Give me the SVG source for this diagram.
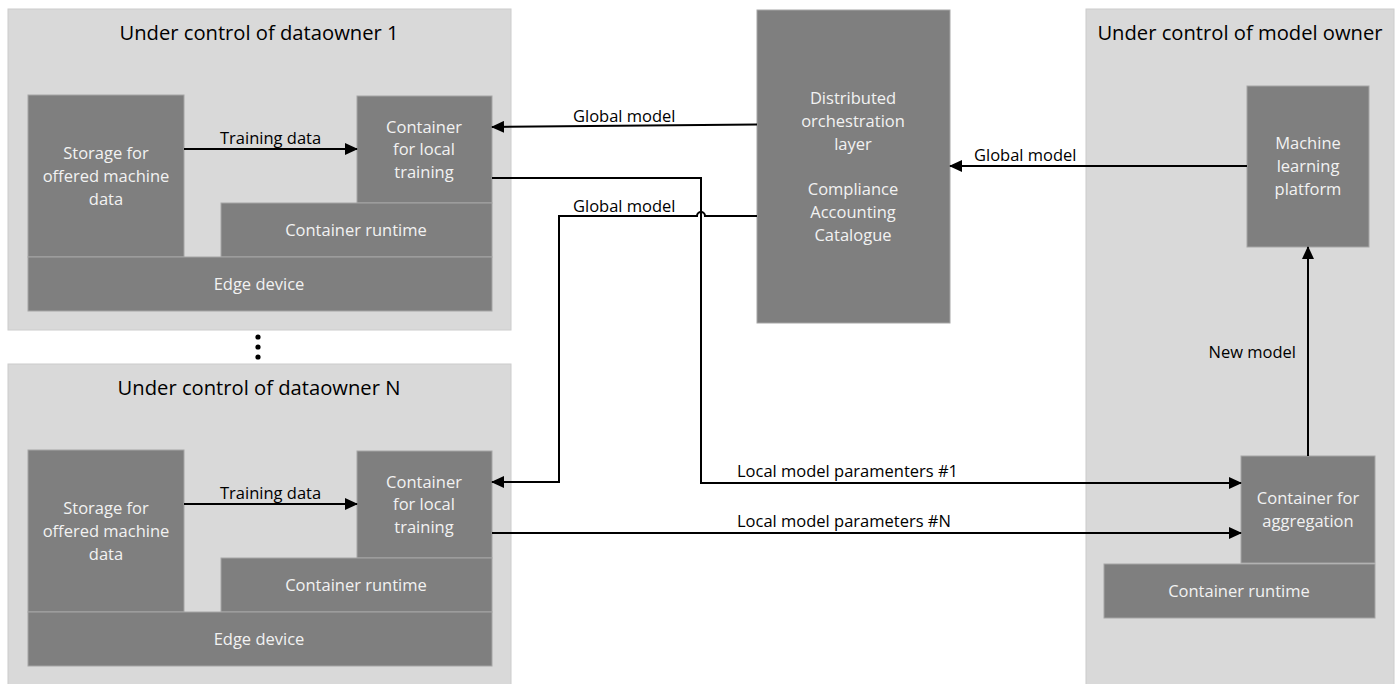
<svg xmlns="http://www.w3.org/2000/svg" width="1397" height="684" viewBox="0 0 1397 684">
<style>
.zone{fill:#d9d9d9;stroke:#cccccc;stroke-width:1}
.box{fill:#7f7f7f;stroke:#a6a6a6;stroke-width:1}
.title{font-family:"Open Sans","Liberation Sans",sans-serif;font-size:20.2px;fill:#000;text-anchor:middle}
.bt{font-family:"Open Sans","Liberation Sans",sans-serif;font-size:16.5px;fill:#f2f2f2;text-anchor:middle}
.lbl{font-family:"Open Sans","Liberation Sans",sans-serif;font-size:16.5px;fill:#000}
.ln{fill:none;stroke:#000;stroke-width:2}
</style>
<defs>
<marker id="ah" markerUnits="userSpaceOnUse" markerWidth="13" markerHeight="12" refX="12" refY="6" orient="auto">
<path d="M0,0 L13,6 L0,12 z" fill="#000"/>
</marker>
</defs>

<g id="owner1">
<rect class="zone" x="8" y="9" width="503" height="321"/>
<text class="title" x="259" y="40">Under control of dataowner 1</text>
</g>
<g id="storage1">
<rect class="box" x="28" y="95" width="156" height="162"/>
<text class="bt" x="106" y="159">Storage for</text>
<text class="bt" x="106" y="182">offered machine</text>
<text class="bt" x="106" y="205">data</text>
</g>
<g id="local1">
<rect class="box" x="357" y="96" width="135" height="107"/>
<text class="bt" x="424" y="133">Container</text>
<text class="bt" x="424" y="155">for local</text>
<text class="bt" x="424" y="178">training</text>
</g>
<g id="runtime1">
<rect class="box" x="221" y="203" width="271" height="54"/>
<text class="bt" x="356" y="236">Container runtime</text>
</g>
<g id="edge1">
<rect class="box" x="28" y="257" width="464" height="54"/>
<text class="bt" x="259" y="290">Edge device</text>
</g>

<g id="dots">
<circle cx="258" cy="337" r="2.6" fill="#000"/>
<circle cx="258" cy="347" r="2.6" fill="#000"/>
<circle cx="258" cy="357" r="2.6" fill="#000"/>
</g>

<g id="ownerN">
<rect class="zone" x="8" y="364" width="503" height="330"/>
<text class="title" x="259" y="395">Under control of dataowner N</text>
</g>
<g id="storageN">
<rect class="box" x="28" y="450" width="156" height="162"/>
<text class="bt" x="106" y="514">Storage for</text>
<text class="bt" x="106" y="537">offered machine</text>
<text class="bt" x="106" y="560">data</text>
</g>
<g id="localN">
<rect class="box" x="357" y="451" width="135" height="107"/>
<text class="bt" x="424" y="488">Container</text>
<text class="bt" x="424" y="510">for local</text>
<text class="bt" x="424" y="533">training</text>
</g>
<g id="runtimeN">
<rect class="box" x="221" y="558" width="271" height="54"/>
<text class="bt" x="356" y="591">Container runtime</text>
</g>
<g id="edgeN">
<rect class="box" x="28" y="612" width="464" height="54"/>
<text class="bt" x="259" y="645">Edge device</text>
</g>

<g id="orchestration">
<rect class="box" x="757" y="10" width="193" height="313"/>
<text class="bt" x="853" y="104">Distributed</text>
<text class="bt" x="853" y="127">orchestration</text>
<text class="bt" x="853" y="150">layer</text>
<text class="bt" x="853" y="195">Compliance</text>
<text class="bt" x="853" y="218">Accounting</text>
<text class="bt" x="853" y="241">Catalogue</text>
</g>

<g id="modelowner">
<rect class="zone" x="1086" y="9" width="308" height="685"/>
<text class="title" x="1240" y="40">Under control of model owner</text>
</g>
<g id="mlplatform">
<rect class="box" x="1247" y="86" width="122" height="161"/>
<text class="bt" x="1308" y="149">Machine</text>
<text class="bt" x="1308" y="172">learning</text>
<text class="bt" x="1308" y="195">platform</text>
</g>
<g id="aggregation">
<rect class="box" x="1241" y="456" width="134" height="107"/>
<text class="bt" x="1308" y="504">Container for</text>
<text class="bt" x="1308" y="527">aggregation</text>
</g>
<g id="runtimeMO">
<rect class="box" x="1104" y="564" width="271" height="54"/>
<text class="bt" x="1239" y="597">Container runtime</text>
</g>

<g id="connectors">
<path class="ln" d="M184,149 H357" marker-end="url(#ah)"/>
<path class="ln" d="M184,504 H357" marker-end="url(#ah)"/>
<path class="ln" d="M757,124.5 L492,127" marker-end="url(#ah)"/>
<path class="ln" d="M757,216 H705 a4,4 0 0 0 -8,0 H559 V482 H492" marker-end="url(#ah)"/>
<path class="ln" d="M492,178 H701 V483 H1241" marker-end="url(#ah)"/>
<path class="ln" d="M492,533 H1241" marker-end="url(#ah)"/>
<path class="ln" d="M1247,166 H950" marker-end="url(#ah)"/>
<path class="ln" d="M1308,456 V247" marker-end="url(#ah)"/>
<text class="lbl" x="220" y="144">Training data</text>
<text class="lbl" x="220" y="499">Training data</text>
<text class="lbl" x="573" y="122">Global model</text>
<text class="lbl" x="573" y="212">Global model</text>
<text class="lbl" x="974" y="161">Global model</text>
<text class="lbl" x="737" y="477">Local model paramenters #1</text>
<text class="lbl" x="737" y="527">Local model parameters #N</text>
<text class="lbl" x="1296" y="358" text-anchor="end">New model</text>
</g>
</svg>
